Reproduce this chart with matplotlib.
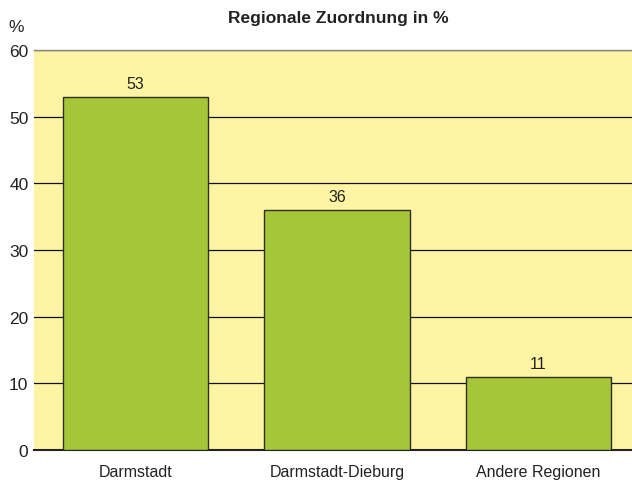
import matplotlib.pyplot as plt

categories = ["Darmstadt", "Darmstadt-Dieburg", "Andere Regionen"]
values = [53, 36, 11]
yticks = [0, 10, 20, 30, 40, 50, 60]

plt.rcParams['font.family'] = ['Liberation Sans', 'DejaVu Sans']

fig = plt.figure(figsize=(6.32, 4.85), dpi=100)
ax = fig.add_axes([34 / 632, 1 - 451 / 485, 1 - 34 / 632, 400 / 485])
ax.set_facecolor("#fff4a3")

x = range(len(categories))
ax.bar(x, values, width=0.72, color="#a6c63a", edgecolor="#2e2e1e", linewidth=1.0, zorder=3)
for xi, v in zip(x, values):
    ax.text(xi, v + 0.9, str(v), ha="center", va="bottom", fontsize=11.5, color="#222222", zorder=4)

ax.set_xlim(-0.504, 2.464)
ax.set_ylim(0, 60)
ax.set_yticks(yticks)
ax.set_xticks(list(x))
ax.set_xticklabels(categories)
ax.tick_params(axis="both", length=0, labelsize=12.5, colors="#222222")
ax.tick_params(axis="x", pad=10, labelsize=11.5)
ax.tick_params(axis="y", pad=4)
ax.yaxis.grid(True, color="#111111", linewidth=0.9, zorder=1)
ax.set_axisbelow(True)

for s in ["left", "right"]:
    ax.spines[s].set_visible(False)
ax.spines["top"].set_color("#888888")
ax.spines["top"].set_linewidth(1.0)
ax.spines["bottom"].set_color("#222222")
ax.spines["bottom"].set_linewidth(1.5)

fig.text(0.535, 1 - 18 / 485, "Regionale Zuordnung in %", ha="center", va="center",
         fontsize=12.5, fontweight="bold", color="#222222")
fig.text(16 / 632, 1 - 27 / 485, "%", ha="center", va="center", fontsize=12.5, color="#222222")

fig.savefig("out.png", dpi=100)
plt.close(fig)
